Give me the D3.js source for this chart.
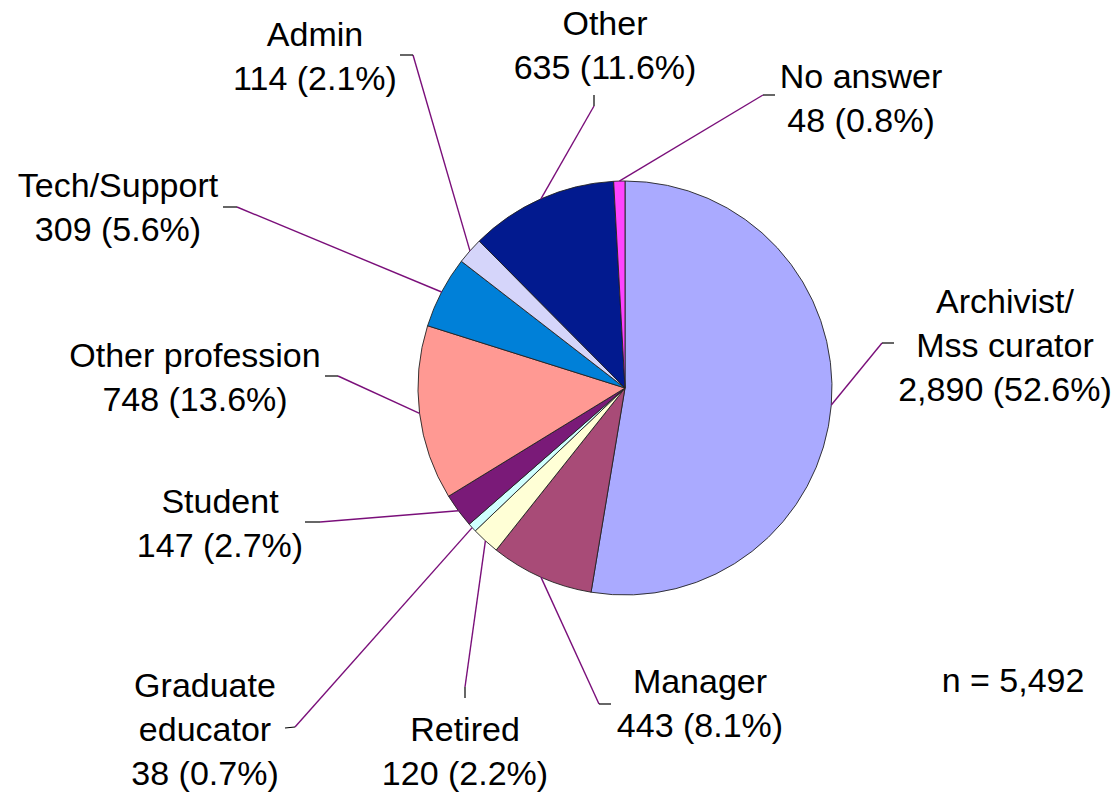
<!DOCTYPE html>
<html>
<head>
<meta charset="utf-8">
<script src="https://cdn.jsdelivr.net/npm/d3@7"></script>
<style>
  html, body { margin: 0; padding: 0; background: #fff; }
  svg { display: block; }
</style>
</head>
<body>
<div id="chart"></div>
<script>
// data, clockwise from 12 o'clock
const categories = [
  `Archivist/\nMss curator`, `Manager`, `Retired`, `Graduate\neducator`, `Student`,
  `Other profession`, `Tech/Support`, `Admin`, `Other`, `No answer`,
];
const counts = [2890, 443, 120, 38, 147, 748, 309, 114, 635, 48];
const percents = [52.6, 8.1, 2.2, 0.7, 2.7, 13.6, 5.6, 2.1, 11.6, 0.8];
const colors = [
  `#AAAAFF`, `#A84B77`, `#FFFFD6`, `#D0FFFF`, `#7A1A78`,
  `#FF9993`, `#0080D8`, `#D5D5FA`, `#021A8F`, `#FF44FF`,
];
const totalLabel = `n = 5,492`;

// label layout: text centre + first baseline, leader elbow and stub end
const labelLayout = [
  { x: 1005, y: 313, elbow: [882, 343], stub: [894, 343] },
  { x: 700, y: 693, elbow: [599, 704], stub: [611, 704] },
  { x: 465, y: 741, elbow: [465, 687], stub: [465, 698] },
  { x: 205, y: 697, elbow: [295, 727], stub: [285, 728] },
  { x: 220, y: 513, elbow: [320, 522], stub: [305, 522] },
  { x: 195, y: 367, elbow: [338, 376], stub: [325, 376] },
  { x: 118, y: 197, elbow: [237, 207], stub: [223, 207] },
  { x: 315, y: 46, elbow: [413, 55], stub: [400, 55] },
  { x: 605, y: 35, elbow: [594, 106], stub: [594, 95] },
  { x: 861, y: 88, elbow: [763, 95], stub: [775, 95] },
];

const width = 1116;
const height = 795;
const cx = 625;
const cy = 388;
const radius = 207;
const lineHeight = 44;
const fontSize = `34px`;

const fmtCount = d3.format(`,`);

const data = categories.map((c, i) => ({
  name: c,
  count: counts[i],
  pct: percents[i],
  color: colors[i],
  layout: labelLayout[i],
}));

const svg = d3.select(`#chart`)
  .append(`svg`)
  .attr(`width`, width)
  .attr(`height`, height);

const pie = d3.pie()
  .sort(null)
  .value((d) => d.count);

const arcs = pie(data);

const arc = d3.arc()
  .innerRadius(0)
  .outerRadius(radius);

const g = svg.append(`g`)
  .attr(`transform`, `translate(${cx},${cy})`);

g.selectAll(`path.slice`)
  .data(arcs)
  .enter()
  .append(`path`)
  .attr(`class`, `slice`)
  .attr(`d`, arc)
  .attr(`fill`, (d) => d.data.color)
  .attr(`stroke`, `#222`)
  .attr(`stroke-width`, 0.9)
  .attr(`stroke-linejoin`, `round`);

// leader lines: from slice mid-angle on the rim to the elbow, then a short black stub
const edgePoint = (d) => {
  const a = (d.startAngle + d.endAngle) / 2;
  return [cx + radius * Math.sin(a), cy - radius * Math.cos(a)];
};

const leaders = svg.append(`g`);

leaders.selectAll(`line.leader`)
  .data(arcs)
  .enter()
  .append(`line`)
  .attr(`class`, `leader`)
  .attr(`x1`, (d) => edgePoint(d)[0])
  .attr(`y1`, (d) => edgePoint(d)[1])
  .attr(`x2`, (d) => d.data.layout.elbow[0])
  .attr(`y2`, (d) => d.data.layout.elbow[1])
  .attr(`stroke`, `#7A0F7A`)
  .attr(`stroke-width`, 1.4);

leaders.selectAll(`line.stub`)
  .data(arcs)
  .enter()
  .append(`line`)
  .attr(`class`, `stub`)
  .attr(`x1`, (d) => d.data.layout.elbow[0])
  .attr(`y1`, (d) => d.data.layout.elbow[1])
  .attr(`x2`, (d) => d.data.layout.stub[0])
  .attr(`y2`, (d) => d.data.layout.stub[1])
  .attr(`stroke`, `#000`)
  .attr(`stroke-width`, 1.2);

// labels
const labels = svg.append(`g`)
  .attr(`font-family`, `"Liberation Sans", Arial, sans-serif`)
  .attr(`font-size`, fontSize)
  .attr(`fill`, `#000`)
  .attr(`text-anchor`, `middle`);

labels.selectAll(`text`)
  .data(data)
  .enter()
  .append(`text`)
  .attr(`x`, (d) => d.layout.x)
  .attr(`y`, (d) => d.layout.y)
  .each(function (d) {
    const lines = d.name.split(`\n`);
    lines.push(`${fmtCount(d.count)} (${d.pct.toFixed(1)}%)`);
    d3.select(this)
      .selectAll(`tspan`)
      .data(lines)
      .enter()
      .append(`tspan`)
      .attr(`x`, d.layout.x)
      .attr(`dy`, (l, i) => (i === 0 ? 0 : lineHeight))
      .text((l) => l);
  });

svg.append(`text`)
  .attr(`x`, 1013)
  .attr(`y`, 692)
  .attr(`text-anchor`, `middle`)
  .attr(`font-family`, `"Liberation Sans", Arial, sans-serif`)
  .attr(`font-size`, fontSize)
  .text(totalLabel);
</script>
</body>
</html>
